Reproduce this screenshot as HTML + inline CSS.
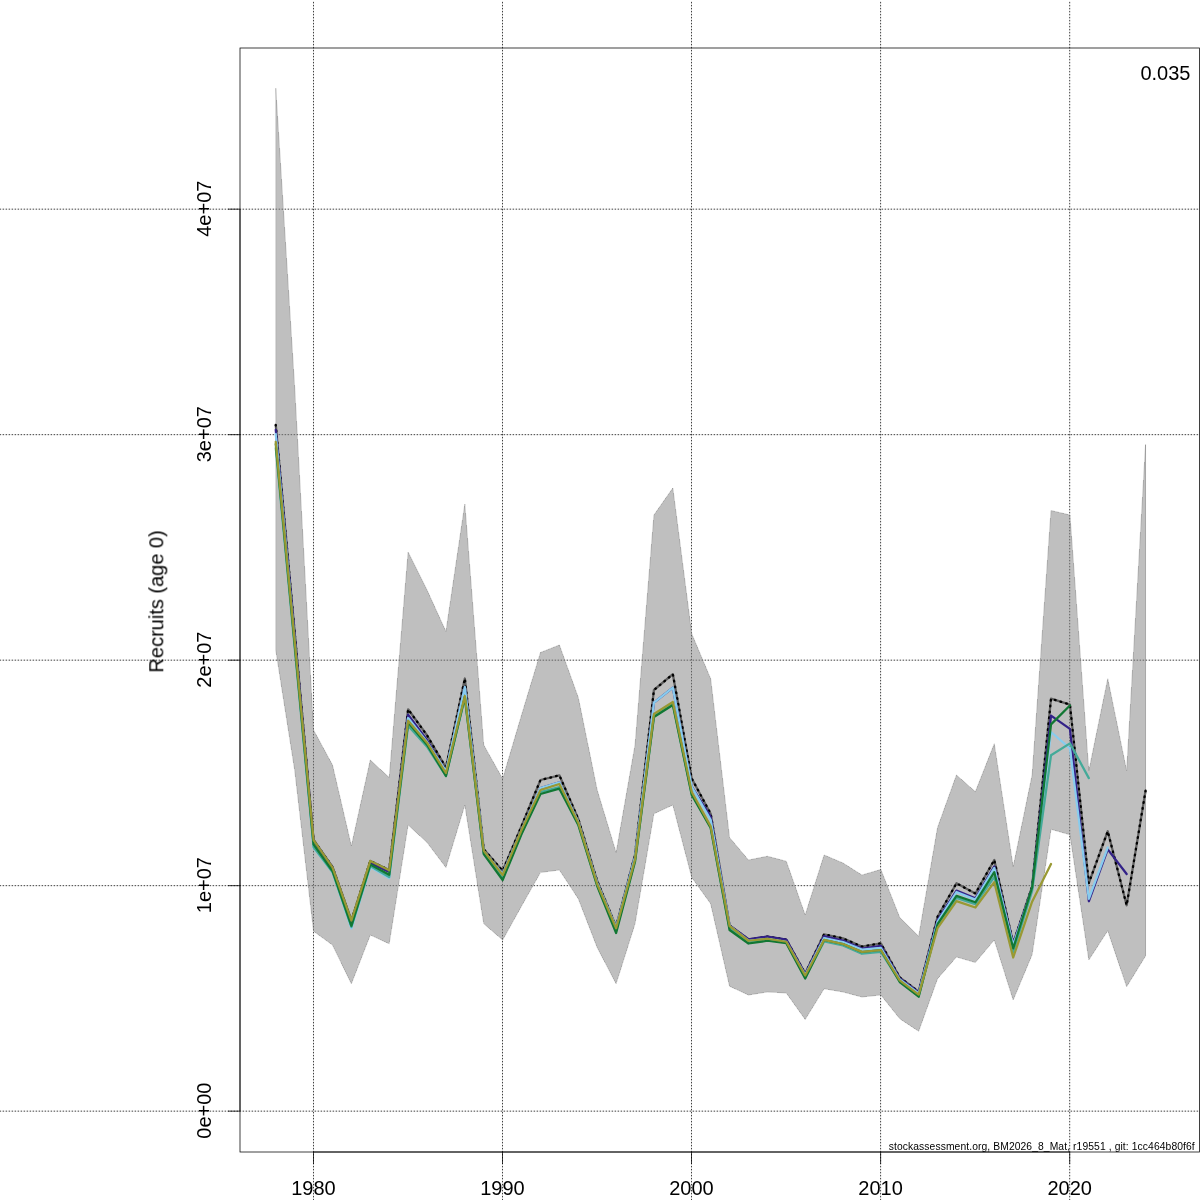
<!DOCTYPE html>
<html><head><meta charset="utf-8"><style>
html,body{margin:0;padding:0;background:#fff;}
svg{display:block;}
text{font-family:"Liberation Sans",Arial,sans-serif;}
.t{filter:grayscale(1);}
</style></head><body>
<svg width="1200" height="1200" viewBox="0 0 1200 1200">
<rect width="1200" height="1200" fill="#fff"/>
<g stroke="#000" stroke-width="0.75" stroke-dasharray="0.75 2.25" stroke-linecap="round" fill="none">
<line x1="313.50" y1="1200" x2="313.50" y2="0"/>
<line x1="502.50" y1="1200" x2="502.50" y2="0"/>
<line x1="691.50" y1="1200" x2="691.50" y2="0"/>
<line x1="880.60" y1="1200" x2="880.60" y2="0"/>
<line x1="1069.70" y1="1200" x2="1069.70" y2="0"/>
<line x1="0" y1="1111.15" x2="1200" y2="1111.15"/>
<line x1="0" y1="885.66" x2="1200" y2="885.66"/>
<line x1="0" y1="660.16" x2="1200" y2="660.16"/>
<line x1="0" y1="434.67" x2="1200" y2="434.67"/>
<line x1="0" y1="209.17" x2="1200" y2="209.17"/>
</g>
<polyline points="275.75,424.80 294.66,632.40 313.57,840.00 332.48,867.00 351.39,920.50 370.29,861.00 389.20,870.00 408.11,709.30 427.02,735.30 445.93,767.50 464.84,678.50 483.75,849.20 502.66,870.80 521.57,826.00 540.48,780.00 559.38,775.30 578.29,819.00 597.20,881.00 616.11,926.60 635.02,854.80 653.93,690.00 672.84,674.20 691.75,778.50 710.66,813.70 729.57,925.50 748.47,939.50 767.38,936.60 786.29,939.60 805.20,973.50 824.11,934.25 843.02,938.40 861.93,946.60 880.84,943.30 899.75,977.50 918.66,991.70 937.56,916.70 956.47,883.30 975.38,893.50 994.29,860.00 1013.20,943.30 1032.11,886.70 1051.02,698.70 1069.93,704.60 1088.84,883.10 1107.75,831.25 1126.65,905.30 1145.56,790.70" fill="none" stroke="#404040" stroke-width="2.3" stroke-linejoin="round"/>
<polygon points="275.75,88.25 294.66,387.00 313.57,730.00 332.48,765.00 351.39,846.00 370.29,760.00 389.20,777.50 408.11,552.00 427.02,590.00 445.93,631.50 464.84,504.00 483.75,745.00 502.66,778.75 521.57,715.00 540.48,652.50 559.38,645.00 578.29,697.50 597.20,790.00 616.11,852.50 635.02,745.00 653.93,515.00 672.84,488.00 691.75,633.75 710.66,678.75 729.57,837.50 748.47,860.00 767.38,856.25 786.29,861.25 805.20,915.00 824.11,855.00 843.02,863.00 861.93,875.00 880.84,869.50 899.75,917.50 918.66,936.25 937.56,827.50 956.47,775.00 975.38,791.70 994.29,743.75 1013.20,866.70 1032.11,775.00 1051.02,510.50 1069.93,515.00 1088.84,770.70 1107.75,678.75 1126.65,770.70 1145.56,444.50 1145.56,956.00 1126.65,986.70 1107.75,930.70 1088.84,960.00 1069.93,834.70 1051.02,829.30 1032.11,954.70 1013.20,1000.00 994.29,940.00 975.38,962.50 956.47,957.00 937.56,978.75 918.66,1031.25 899.75,1018.75 880.84,995.00 861.93,997.00 843.02,992.00 824.11,988.75 805.20,1019.50 786.29,993.00 767.38,992.00 748.47,995.00 729.57,986.25 710.66,903.75 691.75,877.50 672.84,805.00 653.93,813.75 635.02,923.75 616.11,983.75 597.20,947.50 578.29,898.75 559.38,870.00 540.48,872.50 521.57,906.00 502.66,940.00 483.75,923.75 464.84,805.00 445.93,867.50 427.02,842.50 408.11,825.00 389.20,943.75 370.29,935.00 351.39,983.75 332.48,945.00 313.57,931.25 294.66,770.00 275.75,650.00" fill="rgba(128,128,128,0.5)" shape-rendering="crispEdges"/>
<polygon points="275.75,88.25 294.66,387.00 313.57,730.00 332.48,765.00 351.39,846.00 370.29,760.00 389.20,777.50 408.11,552.00 427.02,590.00 445.93,631.50 464.84,504.00 483.75,745.00 502.66,778.75 521.57,715.00 540.48,652.50 559.38,645.00 578.29,697.50 597.20,790.00 616.11,852.50 635.02,745.00 653.93,515.00 672.84,488.00 691.75,633.75 710.66,678.75 729.57,837.50 748.47,860.00 767.38,856.25 786.29,861.25 805.20,915.00 824.11,855.00 843.02,863.00 861.93,875.00 880.84,869.50 899.75,917.50 918.66,936.25 937.56,827.50 956.47,775.00 975.38,791.70 994.29,743.75 1013.20,866.70 1032.11,775.00 1051.02,510.50 1069.93,515.00 1088.84,770.70 1107.75,678.75 1126.65,770.70 1145.56,444.50 1145.56,956.00 1126.65,986.70 1107.75,930.70 1088.84,960.00 1069.93,834.70 1051.02,829.30 1032.11,954.70 1013.20,1000.00 994.29,940.00 975.38,962.50 956.47,957.00 937.56,978.75 918.66,1031.25 899.75,1018.75 880.84,995.00 861.93,997.00 843.02,992.00 824.11,988.75 805.20,1019.50 786.29,993.00 767.38,992.00 748.47,995.00 729.57,986.25 710.66,903.75 691.75,877.50 672.84,805.00 653.93,813.75 635.02,923.75 616.11,983.75 597.20,947.50 578.29,898.75 559.38,870.00 540.48,872.50 521.57,906.00 502.66,940.00 483.75,923.75 464.84,805.00 445.93,867.50 427.02,842.50 408.11,825.00 389.20,943.75 370.29,935.00 351.39,983.75 332.48,945.00 313.57,931.25 294.66,770.00 275.75,650.00" fill="none" stroke="rgba(128,128,128,0.5)" stroke-width="0.75"/>
<polyline points="275.75,424.80 294.66,632.40 313.57,840.00 332.48,867.00 351.39,920.50 370.29,861.00 389.20,870.00 408.11,709.30 427.02,735.30 445.93,767.50 464.84,678.50 483.75,849.20 502.66,870.80 521.57,826.00 540.48,780.00 559.38,775.30 578.29,819.00 597.20,881.00 616.11,926.60 635.02,854.80 653.93,690.00 672.84,674.20 691.75,778.50 710.66,813.70 729.57,925.50 748.47,939.50 767.38,936.60 786.29,939.60 805.20,973.50 824.11,934.25 843.02,938.40 861.93,946.60 880.84,943.30 899.75,977.50 918.66,991.70 937.56,916.70 956.47,883.30 975.38,893.50 994.29,860.00 1013.20,943.30 1032.11,886.70 1051.02,698.70 1069.93,704.60 1088.84,883.10 1107.75,831.25 1126.65,905.30 1145.56,790.70" fill="none" stroke="#000" stroke-width="2.3" stroke-dasharray="0.7 5.2" stroke-linecap="round" stroke-linejoin="round"/>
<polyline points="275.75,429.80 294.66,635.15 313.57,840.50 332.48,867.50 351.39,921.00 370.29,863.00 389.20,872.00 408.11,714.70 427.02,740.00 445.93,771.00 464.84,687.00 483.75,851.00 502.66,874.00 521.57,830.00 540.48,788.00 559.38,782.30 578.29,822.00 597.20,883.00 616.11,927.50 635.02,857.00 653.93,702.70 672.84,687.70 691.75,786.70 710.66,816.70 729.57,925.50 748.47,939.25 767.38,936.50 786.29,939.50 805.20,974.00 824.11,936.10 843.02,940.60 861.93,948.50 880.84,945.80 899.75,978.50 918.66,992.50 937.56,920.00 956.47,890.60 975.38,898.20 994.29,866.40 1013.20,944.00 1032.11,888.00 1051.02,715.70 1069.93,728.80 1088.84,901.25 1107.75,849.40 1126.65,874.00" fill="none" stroke="#332288" stroke-width="2.25" stroke-linejoin="round" stroke-linecap="round"/>
<polyline points="275.75,434.00 294.66,640.80 313.57,847.60 332.48,872.00 351.39,928.40 370.29,867.00 389.20,878.00 408.11,718.00 427.02,742.00 445.93,771.00 464.84,687.00 483.75,851.00 502.66,874.00 521.57,830.00 540.48,788.00 559.38,782.30 578.29,822.00 597.20,883.00 616.11,927.50 635.02,857.00 653.93,702.70 672.84,687.70 691.75,786.70 710.66,819.70 729.57,926.00 748.47,940.75 767.38,938.75 786.29,941.75 805.20,975.00 824.11,938.00 843.02,942.00 861.93,949.60 880.84,947.90 899.75,979.50 918.66,993.50 937.56,921.70 956.47,892.00 975.38,899.60 994.29,867.90 1013.20,945.00 1032.11,889.00 1051.02,732.00 1069.93,748.30 1088.84,898.75 1107.75,847.50" fill="none" stroke="#88CCEE" stroke-width="2.25" stroke-linejoin="round" stroke-linecap="round"/>
<polyline points="275.75,448.00 294.66,647.50 313.57,847.00 332.48,872.00 351.39,927.00 370.29,866.00 389.20,877.00 408.11,725.70 427.02,746.70 445.93,776.00 464.84,698.00 483.75,853.00 502.66,878.00 521.57,833.00 540.48,792.00 559.38,787.00 578.29,824.00 597.20,885.00 616.11,931.00 635.02,860.00 653.93,716.00 672.84,704.00 691.75,794.00 710.66,827.00 729.57,928.50 748.47,942.50 767.38,940.00 786.29,942.50 805.20,977.50 824.11,941.40 843.02,945.50 861.93,953.75 880.84,952.00 899.75,981.50 918.66,996.00 937.56,925.50 956.47,897.90 975.38,904.30 994.29,876.90 1013.20,952.00 1032.11,890.80 1051.02,755.30 1069.93,743.40 1088.84,778.10" fill="none" stroke="#44AA99" stroke-width="2.25" stroke-linejoin="round" stroke-linecap="round"/>
<polyline points="275.75,444.00 294.66,644.15 313.57,844.30 332.48,871.00 351.39,925.80 370.29,864.60 389.20,874.80 408.11,722.50 427.02,744.70 445.93,776.00 464.84,697.00 483.75,854.20 502.66,880.00 521.57,834.00 540.48,794.00 559.38,788.70 578.29,825.00 597.20,886.00 616.11,933.00 635.02,861.80 653.93,717.00 672.84,705.00 691.75,795.00 710.66,828.00 729.57,930.00 748.47,943.50 767.38,940.75 786.29,943.25 805.20,978.50 824.11,940.00 843.02,944.00 861.93,952.00 880.84,950.00 899.75,982.00 918.66,996.70 937.56,924.20 956.47,895.90 975.38,902.30 994.29,872.20 1013.20,948.30 1032.11,887.50 1051.02,724.40 1069.93,705.50" fill="none" stroke="#117733" stroke-width="2.25" stroke-linejoin="round" stroke-linecap="round"/>
<polyline points="275.75,441.80 294.66,641.00 313.57,840.20 332.48,867.30 351.39,920.50 370.29,860.90 389.20,870.30 408.11,720.70 427.02,742.70 445.93,773.00 464.84,696.00 483.75,850.80 502.66,875.00 521.57,830.00 540.48,790.00 559.38,784.00 578.29,822.70 597.20,884.00 616.11,928.30 635.02,859.50 653.93,714.00 672.84,702.00 691.75,792.00 710.66,826.40 729.57,926.00 748.47,940.75 767.38,938.75 786.29,941.75 805.20,975.50 824.11,939.90 843.02,944.00 861.93,951.90 880.84,950.00 899.75,980.40 918.66,994.60 937.56,928.00 956.47,901.10 975.38,907.50 994.29,882.20 1013.20,957.50 1032.11,901.70 1051.02,864.00" fill="none" stroke="#999933" stroke-width="2.25" stroke-linejoin="round" stroke-linecap="round"/>
<rect x="240.0" y="48.0" width="959.50" height="1104.00" fill="none" stroke="#000" stroke-width="0.75"/>
<g stroke="#000" stroke-width="0.75" fill="none">
<line x1="313.50" y1="1152.0" x2="1069.70" y2="1152.0"/>
<line x1="313.50" y1="1152.0" x2="313.50" y2="1164.0"/>
<line x1="502.50" y1="1152.0" x2="502.50" y2="1164.0"/>
<line x1="691.50" y1="1152.0" x2="691.50" y2="1164.0"/>
<line x1="880.60" y1="1152.0" x2="880.60" y2="1164.0"/>
<line x1="1069.70" y1="1152.0" x2="1069.70" y2="1164.0"/>
<line x1="240.0" y1="1111.15" x2="240.0" y2="209.17"/>
<line x1="228.0" y1="1111.15" x2="240.0" y2="1111.15"/>
<line x1="228.0" y1="885.66" x2="240.0" y2="885.66"/>
<line x1="228.0" y1="660.16" x2="240.0" y2="660.16"/>
<line x1="228.0" y1="434.67" x2="240.0" y2="434.67"/>
<line x1="228.0" y1="209.17" x2="240.0" y2="209.17"/>
</g>
<g class="t" font-size="20" fill="#000">
<text x="313.50" y="1194.6" text-anchor="middle">1980</text>
<text x="502.50" y="1194.6" text-anchor="middle">1990</text>
<text x="691.50" y="1194.6" text-anchor="middle">2000</text>
<text x="880.60" y="1194.6" text-anchor="middle">2010</text>
<text x="1069.70" y="1194.6" text-anchor="middle">2020</text>
<text transform="translate(210.6,1110.65) rotate(-90)" text-anchor="middle">0e+00</text>
<text transform="translate(210.6,885.16) rotate(-90)" text-anchor="middle">1e+07</text>
<text transform="translate(210.6,659.66) rotate(-90)" text-anchor="middle">2e+07</text>
<text transform="translate(210.6,434.17) rotate(-90)" text-anchor="middle">3e+07</text>
<text transform="translate(210.6,208.67) rotate(-90)" text-anchor="middle">4e+07</text>
<text transform="translate(163.3,601.4) rotate(-90)" text-anchor="middle">Recruits (age 0)</text>
<text x="1190.5" y="80" text-anchor="end">0.035</text>
</g>
<text class="t" x="888.7" y="1149.7" font-size="10.3" textLength="306" lengthAdjust="spacing" fill="#000">stockassessment.org, BM2026_8_Mat, r19551 , git: 1cc464b80f6f</text>
</svg>
</body></html>
